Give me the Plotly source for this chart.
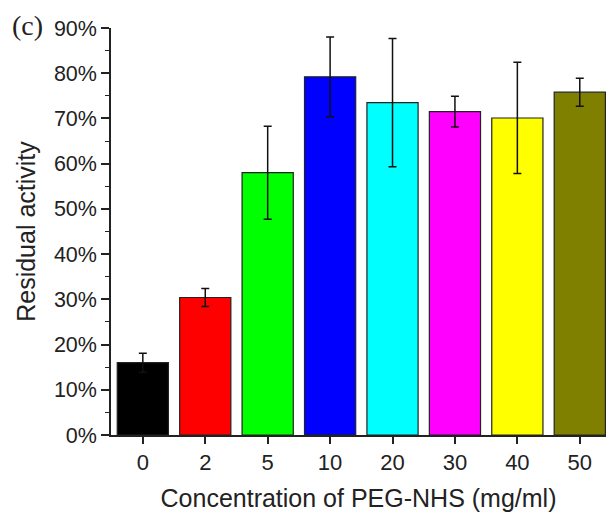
import plotly.graph_objects as go

categories = ["0", "2", "5", "10", "20", "30", "40", "50"]
activity = [16.0, 30.4, 58.0, 79.2, 73.5, 71.5, 70.1, 75.8]
error = [2.1, 2.0, 10.3, 8.8, 14.2, 3.4, 12.3, 3.1]
colors = ["#000000", "#FF0000", "#00FF00", "#0000FF", "#00FFFF", "#FF00FF", "#FFFF00", "#808000"]
y_ticks = [0, 10, 20, 30, 40, 50, 60, 70, 80, 90]
y_ticktext = [f"{v}%" for v in y_ticks]

fig = go.Figure()
fig.add_trace(go.Bar(
    x=categories, y=activity,
    marker=dict(color=colors, line=dict(color="#222222", width=1.2)),
    error_y=dict(type="data", array=error, visible=True, color="#111111", thickness=1.5, width=4),
    width=0.82,
))

font = "Liberation Sans, Arial, sans-serif"
fig.update_layout(
    width=608, height=512,
    margin=dict(l=111, r=2, t=28, b=77),
    plot_bgcolor="white", paper_bgcolor="white",
    showlegend=False,
    font=dict(family=font, color="#222222"),
    xaxis=dict(
        type="category", range=[-0.51, 7.42],
        showline=True, linecolor="#222222", linewidth=1.5,
        ticks="outside", ticklen=7, tickwidth=1.5, tickcolor="#222222",
        tickfont=dict(size=22, family=font, color="#222222"),
        title=dict(text="Concentration of PEG-NHS (mg/ml)", font=dict(size=25, family=font, color="#222222"), standoff=16),
        showgrid=False, zeroline=False,
    ),
    yaxis=dict(
        range=[0, 90], tickmode="array", tickvals=y_ticks, ticktext=y_ticktext,
        showline=True, linecolor="#222222", linewidth=1.5,
        ticks="outside", ticklen=8, tickwidth=1.5, tickcolor="#222222",
        minor=dict(dtick=5, ticks="outside", ticklen=4, tickwidth=1.2, tickcolor="#222222"),
        tickfont=dict(size=21.5, family=font, color="#222222"),
        title=dict(text="Residual activity", font=dict(size=25, family=font, color="#222222"), standoff=11),
        showgrid=False, zeroline=False,
    ),
)
fig.add_annotation(
    text="(c)", xref="paper", yref="paper", x=-0.205, y=1.05,
    xanchor="left", yanchor="top", showarrow=False,
    font=dict(family="Liberation Serif, Times New Roman, serif", size=28, color="#222222"),
)
fig.write_html("out.html")
